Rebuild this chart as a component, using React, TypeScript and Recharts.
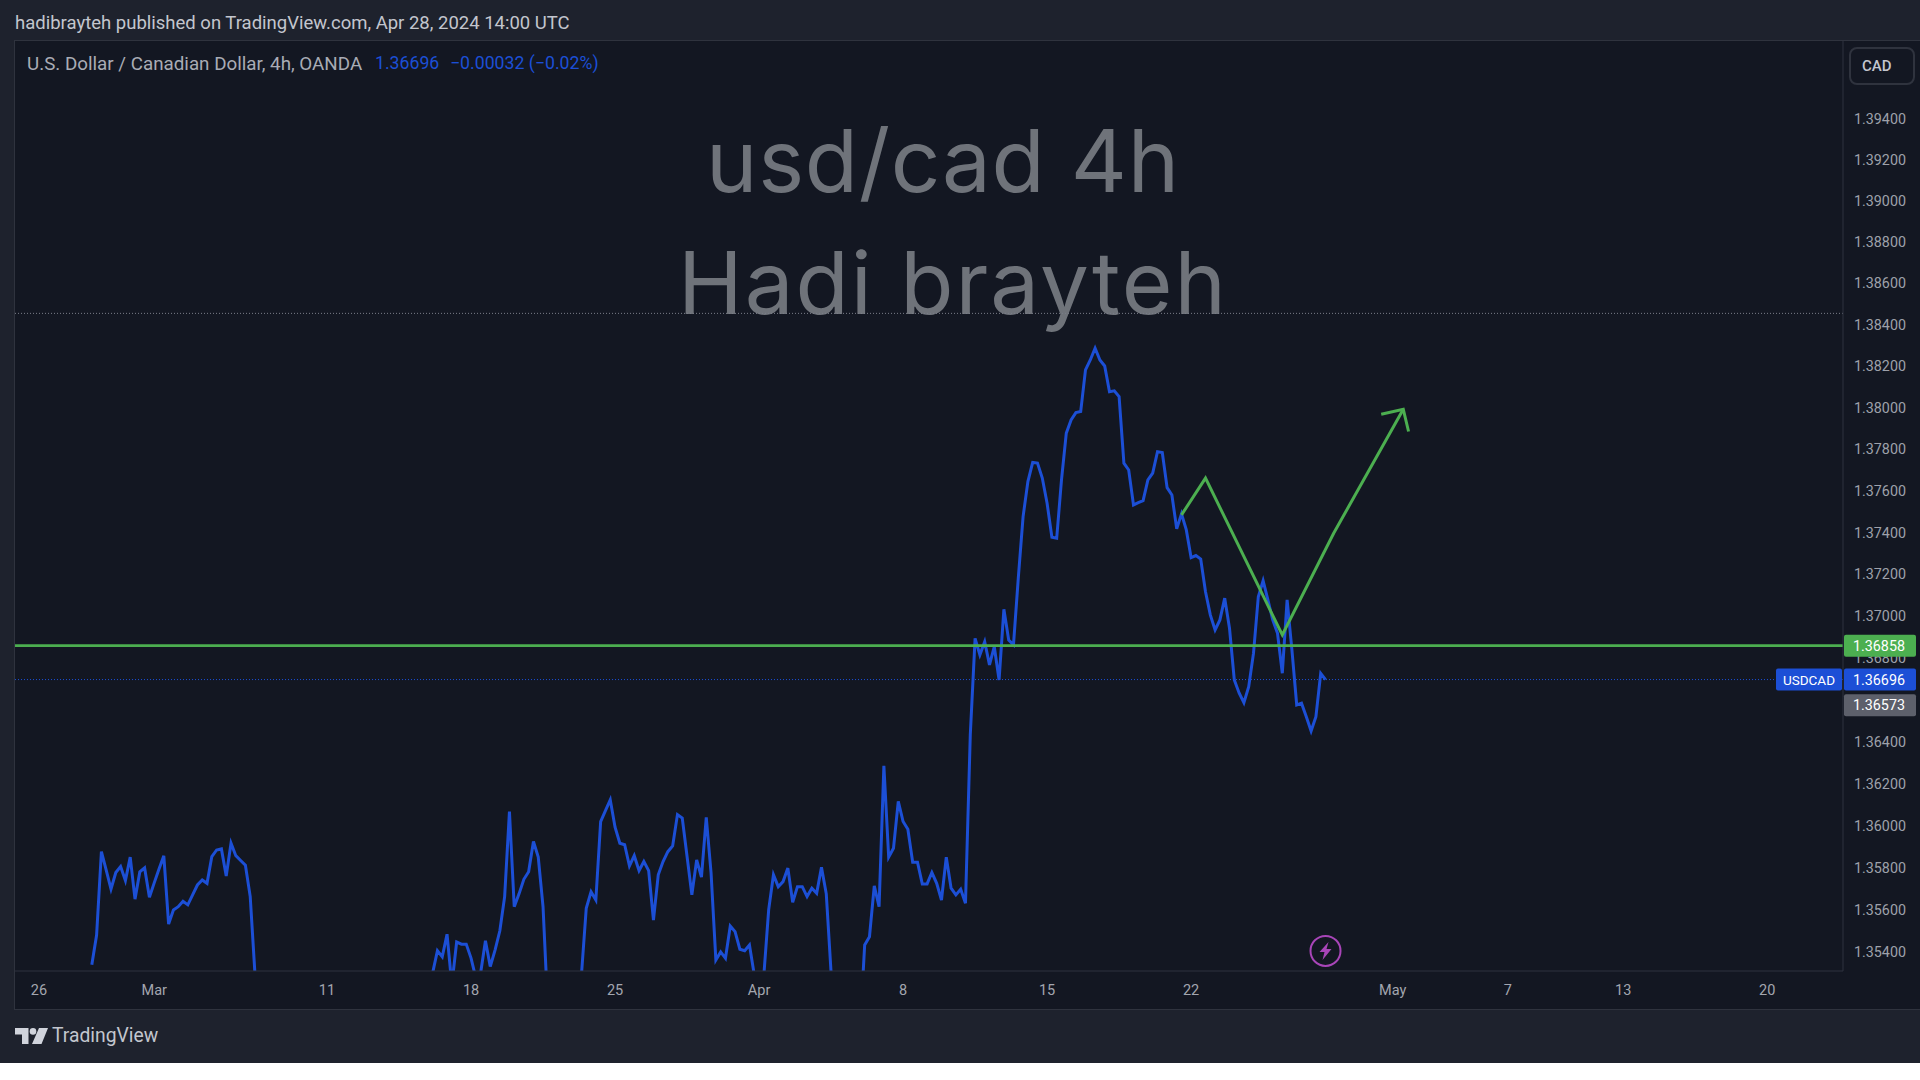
import { LineChart, Line, XAxis, YAxis, ReferenceLine, ReferenceDot } from 'recharts'

const FIRST_BAR = 11

// 4h closes, one per bar from FIRST_BAR. Runs below the axis are estimates, the picture clips them
const closes = [
    1.35341, 1.35482, 1.35877, 1.35790, 1.35700, 1.35778, 1.35806, 1.35740, 1.35851, 1.35652,
    1.35781, 1.35800, 1.35661, 1.35729, 1.35795, 1.35857, 1.35534, 1.35601, 1.35616, 1.35642,
    1.35625, 1.35672, 1.35719, 1.35743, 1.35727, 1.35854, 1.35885, 1.35890, 1.35762, 1.35917,
    1.35858, 1.35835, 1.35813, 1.35664, 1.35294,
    1.3512, 1.3505, 1.3498, 1.3491, 1.3486, 1.3490, 1.3495, 1.3489, 1.3482, 1.3478,
    1.3472, 1.3476, 1.3483, 1.3480, 1.3474, 1.3470, 1.3466, 1.3471, 1.3478, 1.3484,
    1.3481, 1.3487, 1.3493, 1.3490, 1.3496, 1.3502, 1.3499, 1.3505, 1.3511, 1.3508,
    1.3514, 1.3519, 1.3516, 1.3522, 1.3526, 1.3524,
    1.35303, 1.35408, 1.35379, 1.35486, 1.35246, 1.35449, 1.35439, 1.35439, 1.35373, 1.35279,
    1.35303, 1.35455, 1.35333, 1.35411, 1.35502, 1.35664, 1.36067, 1.35616, 1.35677, 1.35746,
    1.35782, 1.35925, 1.35851, 1.35615,
    1.35128, 1.3508, 1.3502, 1.3506, 1.3511, 1.3516, 1.3522,
    1.35294, 1.35609, 1.35687, 1.35648, 1.36020, 1.36072, 1.36123, 1.35993, 1.35917, 1.35910,
    1.35809, 1.35858, 1.35787, 1.35830, 1.35787, 1.35553, 1.35767, 1.35830, 1.35877, 1.35904,
    1.36053, 1.36036, 1.35854, 1.35672, 1.35838, 1.35756, 1.36040, 1.35776, 1.35364, 1.35402,
    1.35372, 1.35525, 1.35498, 1.35415, 1.35408, 1.35435, 1.35294, 1.35223, 1.35294, 1.35601,
    1.35767, 1.35711, 1.35735, 1.35799, 1.35637, 1.35711, 1.35711, 1.35664, 1.35704, 1.35680,
    1.35803, 1.35677, 1.35305,
    1.3515, 1.3508, 1.3503, 1.3510, 1.3522, 1.35024,
    1.35435, 1.35474, 1.35715, 1.35616, 1.36285, 1.35851, 1.35893, 1.36116, 1.36020, 1.35983,
    1.35827, 1.35827, 1.35724, 1.35724, 1.35778, 1.35727, 1.35648, 1.35851, 1.35704, 1.35672,
    1.35699, 1.35633, 1.36432, 1.36893, 1.36814, 1.36877, 1.36766, 1.36853, 1.36694, 1.37032,
    1.36885, 1.36862, 1.37181, 1.37476, 1.37644, 1.37736, 1.37733, 1.37661, 1.37540, 1.37377,
    1.37372, 1.37652, 1.37877, 1.37941, 1.37976, 1.37981, 1.38182, 1.38230, 1.38287, 1.38230,
    1.38201, 1.38077, 1.38081, 1.38053, 1.37733, 1.37700, 1.37532, 1.37543, 1.37553, 1.37652,
    1.37685, 1.37788, 1.37784, 1.37615, 1.37580, 1.37417, 1.37489, 1.37412, 1.37279, 1.37289,
    1.37272, 1.37116, 1.37005, 1.36933, 1.36981, 1.37085, 1.36941, 1.36694, 1.36632, 1.36586,
    1.36662, 1.36822, 1.37092, 1.37169, 1.37077, 1.36981, 1.36917, 1.36726, 1.37077, 1.36838,
    1.36575, 1.36583, 1.36519, 1.36451, 1.36519, 1.36726, 1.36696,
]

// hand drawn green path and its arrow head
const pathBars = [238, 243, 259, 269.7, 284.2]
const pathPrices = [1.37484, 1.37661, 1.36909, 1.37396, 1.37992]
const headBars = [279.6, 284.2, 285.3]
const headPrices = [1.37968, 1.37992, 1.37885]

const tickBars = [0, 24, 60, 90, 120, 150, 180, 210, 240, 282, 306, 330, 360]
const tickLabels = ['26', 'Mar', '11', '18', '25', 'Apr', '8', '15', '22', 'May', '7', '13', '20']

// 1.366 sits fully behind the price tags in the picture
const priceTicks = [
    1.354, 1.356, 1.358, 1.36, 1.362, 1.364, 1.368, 1.37, 1.372, 1.374,
    1.376, 1.378, 1.38, 1.382, 1.384, 1.386, 1.388, 1.39, 1.392, 1.394,
]

const BAR_DOMAIN = [-5, 375.8]
const PRICE_DOMAIN = [1.35312, 1.39778]

const LAST_PRICE = 1.36696
const SUPPORT_PRICE = 1.36858
const SESSION_PRICE = 1.36573
const RESISTANCE_PRICE = 1.38455
const EVENT_BAR = 268
const EVENT_PRICE = 1.35407

const FONT = 'Roboto, sans-serif'
const BLUE = '#1c4fd6'
const GREEN = '#4caf50'
const GREY_TAG = '#5d606b'
const PANEL = '#1e222d'
const PLOT = '#131722'
const BORDER = '#2f333e'
const WATERMARK = '#6f737a'

const closeData = closes.map((close, i) => ({ bar: FIRST_BAR + i, price: close }))
const pathData = pathBars.map((bar, i) => ({ bar, price: pathPrices[i] }))
const headData = headBars.map((bar, i) => ({ bar, price: headPrices[i] }))

const PriceTag = ({ viewBox, text, fill, name }: any) => {
    const right = viewBox.x + viewBox.width
    const y = viewBox.y
    return (
        <g>
            <rect x={right + 1} y={y - 11} width={72} height={22} rx={2} fill={fill} />
            <text x={right + 36} y={y + 5} textAnchor="middle" fill="#ffffff" fontSize={14.3} fontFamily={FONT}>
                {text}
            </text>
            {name && (
                <g>
                    <rect x={right - 67} y={y - 11} width={66} height={22} rx={2} fill={fill} />
                    <text x={right - 34} y={y + 5} textAnchor="middle" fill="#ffffff" fontSize={13.5} fontFamily={FONT}>
                        {name}
                    </text>
                </g>
            )}
        </g>
    )
}

const EventIcon = ({ cx, cy }: any) => (
    <g>
        <circle cx={cx} cy={cy} r={15} fill="none" stroke="#a845b8" strokeWidth={2} />
        <path
            d={`M${cx + 3} ${cy - 9} L${cx - 6} ${cy + 1} L${cx - 1} ${cy + 1} L${cx - 3} ${cy + 9} L${cx + 6} ${cy - 2} L${cx + 1} ${cy - 2} Z`}
            fill="#a845b8"
        />
    </g>
)

const textAt = (left: number, top: number, size: number, color: string, extra = {}) => ({
    position: 'absolute' as const,
    left,
    top,
    fontSize: size,
    color,
    fontFamily: FONT,
    whiteSpace: 'nowrap' as const,
    lineHeight: 1,
    ...extra,
})

export default function App() {
    return (
        <div style={{ position: 'absolute', left: 0, top: 0, width: 1920, height: 1063, background: PANEL, overflow: 'hidden' }}>
            <div style={{ position: 'absolute', left: 15, top: 41, width: 1910, height: 969, background: PLOT }} />
            <div style={{ position: 'absolute', left: 14, top: 40, width: 1912, height: 970, border: `1px solid ${BORDER}`, boxSizing: 'border-box' }} />

            <div style={textAt(15, 14, 18.5, '#c3c6ce')}>hadibrayteh published on TradingView.com, Apr 28, 2024 14:00 UTC</div>
            <div style={textAt(27, 55, 18.8, '#a9acb5')}>U.S. Dollar / Canadian Dollar, 4h, OANDA</div>
            <div style={textAt(375, 55, 17.7, BLUE)}>1.36696</div>
            <div style={textAt(450, 55, 17.7, BLUE)}>−0.00032 (−0.02%)</div>

            <div style={textAt(706, 117, 87, WATERMARK, { fontFamily: 'Inter, sans-serif', letterSpacing: 0.7 })}>usd/cad 4h</div>
            <div style={textAt(678, 239, 87, WATERMARK, { fontFamily: 'Inter, sans-serif', letterSpacing: 2 })}>Hadi brayteh</div>

            <div style={{ position: 'absolute', left: 1849, top: 47, width: 66, height: 38, boxSizing: 'border-box', border: `2px solid ${BORDER}`, borderRadius: 8 }} />
            <div style={textAt(1862, 59, 15, '#c3c6ce', { fontWeight: 500 })}>CAD</div>

            <div style={{ position: 'absolute', left: 0, top: 0 }}>
                <LineChart width={1920} height={1063} margin={{ top: 41, right: 0, bottom: 54, left: 15 }}>
                    <XAxis
                        dataKey="bar"
                        type="number"
                        domain={BAR_DOMAIN}
                        allowDataOverflow
                        ticks={tickBars}
                        interval={0}
                        tickFormatter={(bar: number) => tickLabels[tickBars.indexOf(bar)]}
                        height={38}
                        stroke={BORDER}
                        tickSize={0}
                        tickMargin={14}
                        tick={{ fill: '#a3a6af', fontSize: 14.5, fontFamily: FONT }}
                    />
                    <YAxis
                        type="number"
                        orientation="right"
                        scale="log"
                        domain={PRICE_DOMAIN}
                        allowDataOverflow
                        ticks={priceTicks}
                        interval={0}
                        tickFormatter={(price: number) => price.toFixed(5)}
                        width={77}
                        stroke={BORDER}
                        tickSize={0}
                        tickMargin={11}
                        tick={{ fill: '#9ea1aa', fontSize: 14.3, fontFamily: FONT }}
                    />
                    <ReferenceLine y={RESISTANCE_PRICE} stroke="#7a7e89" strokeDasharray="1 2" />
                    <ReferenceLine y={LAST_PRICE} stroke={BLUE} strokeDasharray="1 2" />
                    <Line data={closeData} dataKey="price" type="linear" stroke={BLUE} strokeWidth={3} dot={false} isAnimationActive={false} />
                    <Line data={pathData} dataKey="price" type="linear" stroke={GREEN} strokeWidth={3} dot={false} isAnimationActive={false} />
                    <Line data={headData} dataKey="price" type="linear" stroke={GREEN} strokeWidth={3} dot={false} isAnimationActive={false} />
                    <ReferenceLine y={SUPPORT_PRICE} stroke={GREEN} strokeWidth={2.6} />
                    <ReferenceDot x={EVENT_BAR} y={EVENT_PRICE} shape={<EventIcon />} />
                </LineChart>
            </div>

            {/* second chart on the same scales, the axis ticks would paint over tags in the first one */}
            <div style={{ position: 'absolute', left: 0, top: 0 }}>
                <LineChart width={1920} height={1063} margin={{ top: 41, right: 77, bottom: 92, left: 15 }}>
                    <XAxis dataKey="bar" type="number" domain={BAR_DOMAIN} allowDataOverflow hide />
                    <YAxis type="number" scale="log" domain={PRICE_DOMAIN} allowDataOverflow hide />
                    <Line data={closeData} dataKey="price" stroke="none" dot={false} isAnimationActive={false} />
                    <ReferenceLine y={SESSION_PRICE} stroke="none" label={<PriceTag text="1.36573" fill={GREY_TAG} />} />
                    <ReferenceLine y={LAST_PRICE} stroke="none" label={<PriceTag text="1.36696" fill={BLUE} name="USDCAD" />} />
                    <ReferenceLine y={SUPPORT_PRICE} stroke="none" label={<PriceTag text="1.36858" fill={GREEN} />} />
                </LineChart>
            </div>

            <svg style={{ position: 'absolute', left: 15, top: 1028 }} width={34} height={17} viewBox="0 0 34 17">
                <path d="M0 0 H13.5 V16 H7 V6.5 H0 Z" fill="#d1d4dc" />
                <circle cx={18} cy={3.4} r={3.3} fill="#d1d4dc" />
                <path d="M24 0 H33 L26.5 16 H17 Z" fill="#d1d4dc" />
            </svg>
            <div style={textAt(52, 1026, 19.3, '#c3c6ce')}>TradingView</div>
        </div>
    )
}
